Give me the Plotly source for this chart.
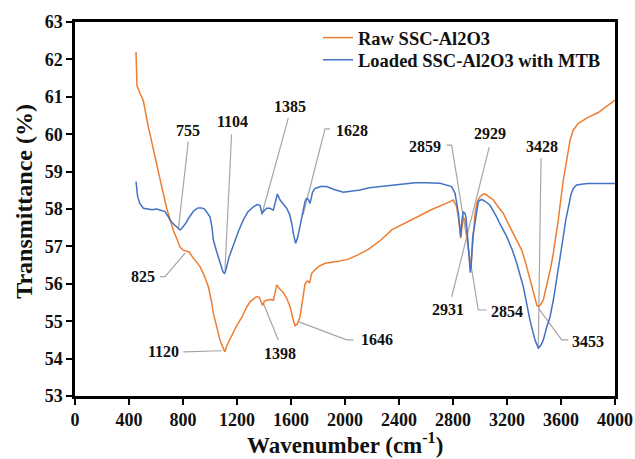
import plotly.graph_objects as go

# ---------------- data ----------------
raw_wn = [452, 455, 459, 480, 506, 540, 580, 630, 679, 705, 728, 755, 778, 800, 825, 845,
          870, 900, 926, 960, 988, 1010, 1025, 1050, 1074, 1095, 1110, 1125, 1148, 1170,
          1198, 1235, 1272, 1300, 1321, 1345, 1365, 1380, 1390, 1402, 1425, 1450, 1470,
          1484, 1494, 1512, 1543, 1570, 1593, 1612, 1630, 1645, 1667, 1685, 1704, 1722,
          1738, 1753, 1778, 1802, 1852, 1950, 2025, 2100, 2173, 2260, 2346, 2430, 2519,
          2650, 2750, 2802, 2827, 2846, 2857, 2866, 2876, 2889, 2900, 2912, 2922, 2930,
          2938, 2950, 2963, 2980, 3000, 3025, 3040, 3070, 3099, 3130, 3173, 3210, 3247,
          3280, 3309, 3335, 3358, 3385, 3407, 3422, 3432, 3445, 3469, 3488, 3506, 3525,
          3543, 3562, 3580, 3593, 3605, 3618, 3630, 3650, 3667, 3690, 3728, 3800, 3876,
          3940, 4000]
raw_t = [62.2, 61.6, 61.3, 61.1, 60.9, 60.25, 59.58, 58.8, 58.02, 57.7, 57.44, 57.2, 56.98,
         56.9, 56.88, 56.85, 56.72, 56.58, 56.46, 56.2, 55.92, 55.55, 55.21, 54.85, 54.5,
         54.3, 54.18, 54.35, 54.52, 54.7, 54.88, 55.1, 55.38, 55.53, 55.6, 55.66, 55.64,
         55.5, 55.42, 55.53, 55.57, 55.58, 55.56, 55.8, 55.97, 55.88, 55.77, 55.6, 55.39,
         55.1, 54.88, 54.92, 55.12, 55.55, 56.0, 56.08, 56.02, 56.28, 56.38, 56.46, 56.55,
         56.6, 56.66, 56.78, 56.92, 57.15, 57.44, 57.6, 57.76, 58.0, 58.15, 58.24, 58.06,
         57.62, 57.22, 57.55, 57.79, 57.7, 57.45, 57.0, 56.6, 56.45, 56.7, 57.4, 57.88,
         58.2, 58.33, 58.4, 58.4, 58.32, 58.24, 58.08, 57.88, 57.6, 57.35, 57.1, 56.9,
         56.6, 56.28, 55.9, 55.57, 55.42, 55.39, 55.42, 55.57, 55.85, 56.1, 56.45, 56.82,
         57.25, 57.71, 58.1, 58.51, 58.8, 59.04, 59.5, 59.84, 60.1, 60.29, 60.45, 60.58,
         60.75, 60.91]

loaded_wn = [452, 458, 464, 480, 506, 540, 570, 605, 640, 667, 690, 704, 730, 760, 778, 790,
             820, 850, 880, 910, 938, 960, 985, 1000, 1015, 1025, 1050, 1075, 1095, 1108,
             1120, 1140, 1173, 1210, 1247, 1280, 1321, 1350, 1370, 1385, 1400, 1420, 1444,
             1469, 1485, 1499, 1519, 1545, 1568, 1590, 1605, 1620, 1634, 1650, 1667, 1685,
             1704, 1715, 1728, 1741, 1760, 1778, 1820, 1864, 1920, 1988, 2050, 2111, 2180,
             2259, 2350, 2450, 2519, 2600, 2704, 2790, 2815, 2840, 2857, 2866, 2876, 2888,
             2896, 2905, 2913, 2922, 2928, 2935, 2946, 2963, 2975, 2987, 3012, 3040, 3074,
             3100, 3123, 3148, 3198, 3240, 3272, 3321, 3370, 3407, 3432, 3450, 3469, 3495,
             3519, 3545, 3568, 3595, 3617, 3635, 3654, 3675, 3691, 3716, 3765, 3800, 3880,
             3950, 4000]
loaded_t = [58.73, 58.5, 58.33, 58.15, 58.02, 58.0, 57.98, 58.0, 57.97, 57.93, 57.8, 57.7,
            57.6, 57.5, 57.44, 57.48, 57.62, 57.8, 57.95, 58.03, 58.03, 58.0, 57.88, 57.79,
            57.5, 57.17, 56.85, 56.55, 56.33, 56.27, 56.4, 56.7, 57.05, 57.4, 57.71, 57.92,
            58.06, 58.12, 58.1, 57.88, 57.95, 58.02, 58.02, 57.97, 58.2, 58.4, 58.24, 58.12,
            58.02, 57.85, 57.62, 57.3, 57.08, 57.25, 57.53, 57.9, 58.2, 58.28, 58.26, 58.15,
            58.45, 58.55, 58.6, 58.6, 58.52, 58.45, 58.47, 58.51, 58.57, 58.6, 58.64, 58.67,
            58.7, 58.7, 58.69, 58.6, 58.42, 57.88, 57.26, 57.7, 57.93, 57.88, 57.79, 57.4,
            56.9, 56.5, 56.3, 56.5, 57.26, 57.62, 57.95, 58.2, 58.26, 58.2, 58.1, 57.95,
            57.79, 57.6, 57.26, 56.9, 56.55, 55.92, 55.03, 54.5, 54.28, 54.35, 54.5, 54.85,
            55.12, 55.6, 56.1, 56.75, 57.26, 57.7, 58.06, 58.4, 58.55, 58.64, 58.67, 58.68,
            58.68, 58.69, 58.68]

series_names = ["Raw SSC-Al2O3", "Loaded SSC-Al2O3 with MTB"]
x_ticks = [0, 400, 800, 1200, 1600, 2000, 2400, 2800, 3200, 3600, 4000]
y_ticks = [53, 54, 55, 56, 57, 58, 59, 60, 61, 62, 63]

# peak labels: text, text anchor (wavenumber, %), leader-line path points
peak_labels = [
    ("755", (839, 60.1), [(839, 59.8), (765, 57.44)]),
    ("1104", (1165, 60.33), [(1160, 60.0), (1111, 56.37)]),
    ("1385", (1593, 60.75), [(1580, 60.43), (1383, 57.84)]),
    ("1628", (2049, 60.11), [(1889, 60.14), (1852, 60.14), (1689, 57.84)]),
    ("2859", (2593, 59.67), [(2753, 59.71), (2790, 59.71), (2987, 55.30), (3050, 55.30)]),
    ("2929", (3074, 60.02), [(3069, 59.66), (2790, 55.65)]),
    ("3428", (3457, 59.67), [(3452, 59.36), (3432, 54.32)]),
    ("2931", (2765, 55.3), []),
    ("2854", (3198, 55.25), []),
    ("3453", (3802, 54.45), [(3654, 54.5), (3605, 54.5), (3432, 55.35)]),
    ("1646", (2235, 54.5), [(2062, 54.5), (2012, 54.5), (1654, 54.99)]),
    ("1398", (1519, 54.14), [(1506, 54.5), (1395, 55.48)]),
    ("1120", (654, 54.18), [(802, 54.18), (1086, 54.21)]),
    ("825", (506, 56.19), [(630, 56.19), (667, 56.19), (815, 56.82)]),
]

FONT = "Liberation Serif, Times New Roman, serif"
ORANGE = "#ED7D31"
BLUE = "#4472C4"

fig = go.Figure()
fig.add_trace(go.Scatter(x=raw_wn, y=raw_t, mode="lines", name=series_names[0],
                         line=dict(color=ORANGE, width=1.5), legend="legend"))
fig.add_trace(go.Scatter(x=loaded_wn, y=loaded_t, mode="lines", name=series_names[1],
                         line=dict(color=BLUE, width=1.5), legend="legend2"))

for text, (tx, ty), path in peak_labels:
    if path:
        d = "M " + " L ".join(f"{px},{py}" for px, py in path)
        fig.add_shape(type="path", path=d, xref="x", yref="y",
                      line=dict(color="#A6A6A6", width=1.2), layer="below")
    fig.add_annotation(x=tx, y=ty, xref="x", yref="y", text=text, showarrow=False,
                       font=dict(family=FONT, size=16, color="#111111", weight="bold"))

axis_common = dict(showgrid=False, zeroline=False, showline=True, linecolor="black",
                   linewidth=2.5, mirror=True, ticks="outside", ticklen=6, tickwidth=2,
                   tickcolor="black", automargin=False,
                   tickfont=dict(family=FONT, size=18, color="#111111", weight="bold"))

leg_font = dict(family=FONT, size=18.5, color="#111111", weight="bold")
fig.update_layout(
    width=635, height=459,
    margin=dict(l=75, r=20, t=22, b=63),
    paper_bgcolor="white", plot_bgcolor="white",
    xaxis=dict(range=[0, 4000], tickvals=x_ticks, **axis_common),
    yaxis=dict(range=[53, 63], tickvals=y_ticks, **axis_common),
    showlegend=True,
    legend=dict(x=0.45, y=0.957, xanchor="left", yanchor="middle",
                bgcolor="rgba(0,0,0,0)", font=leg_font),
    legend2=dict(x=0.45, y=0.898, xanchor="left", yanchor="middle",
                 bgcolor="rgba(0,0,0,0)", font=leg_font),
)

fig.add_annotation(x=0.5, y=-0.128, xref="paper", yref="paper", yanchor="middle",
                   text="Wavenumber (cm<sup>-1</sup>)", showarrow=False,
                   font=dict(family=FONT, size=23, color="#111111", weight="bold"))
fig.add_annotation(x=-0.095, y=0.521, xref="paper", yref="paper", xanchor="center",
                   yanchor="middle", textangle=-90, text="Transmittance (%)", showarrow=False,
                   font=dict(family=FONT, size=24, color="#111111", weight="bold"))

fig.write_html("out.html")
